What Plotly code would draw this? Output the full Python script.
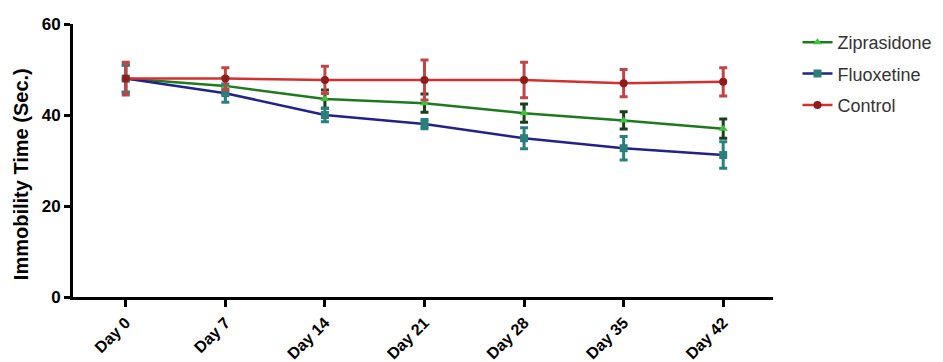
import plotly.graph_objects as go

days = ["Day 0", "Day 7", "Day 14", "Day 21", "Day 28", "Day 35", "Day 42"]

zip_mean = [48.0, 46.4, 43.5, 42.6, 40.4, 38.8, 37.0]
zip_err = [3.0, 1.8, 2.0, 2.0, 2.0, 1.9, 2.1]
flu_mean = [48.0, 44.8, 40.0, 38.0, 34.9, 32.7, 31.2]
flu_err = [3.0, 2.0, 1.5, 1.0, 2.3, 2.6, 2.9]
ctl_mean = [48.0, 48.0, 47.7, 47.7, 47.7, 47.0, 47.3]
ctl_err = [3.6, 2.4, 3.0, 4.4, 3.9, 3.0, 3.1]

x = list(range(len(days)))

fig = go.Figure()

series = [
    ("Ziprasidone", zip_mean, zip_err, "#1e7a1e", "#3cc43c", "#1d3d1d", "triangle-up", "g1"),
    ("Fluoxetine", flu_mean, flu_err, "#22228a", "#2a7f7a", "#2a8080", "square", "g2"),
    ("Control", ctl_mean, ctl_err, "#d43030", "#8e1c1c", "#c04545", "circle", "g3"),
]

for name, m, e, lc, mc, ec, sym, grp in series:
    fig.add_trace(go.Scatter(
        x=x, y=m, name=name, mode="lines+markers",
        legendgroup=grp,
        line=dict(color=lc, width=2.5),
        marker=dict(color=mc, symbol=sym, size=8),
        error_y=dict(type="data", array=e, visible=True, color=ec, thickness=3, width=4),
    ))

FONT = "Liberation Sans, Arial, sans-serif"

fig.update_layout(
    width=935, height=354,
    margin=dict(l=65, r=170, t=16, b=65, autoexpand=False),
    plot_bgcolor="white", paper_bgcolor="white",
    font=dict(family=FONT, color="#111"),
    showlegend=True,
    legend=dict(
        x=1.035, y=1.0, xanchor="left", yanchor="top",
        font=dict(size=18, color="#333"),
        traceorder="grouped", tracegroupgap=5,
        itemwidth=30,
    ),
    annotations=[dict(
        text="<b>Immobility Time (Sec.)</b>", textangle=-90,
        xref="paper", yref="paper", x=-0.0743, y=0.45,
        xanchor="center", yanchor="middle", showarrow=False,
        font=dict(size=20, color="black", family=FONT),
    )],
)

fig.update_xaxes(
    tickmode="array", tickvals=x, ticktext=days,
    range=[-0.53, 6.5], automargin=False,
    showline=True, linecolor="black", linewidth=3,
    ticks="outside", ticklen=7, tickwidth=2.5, tickcolor="black",
    tickangle=-45, showgrid=False, zeroline=False,
    tickfont=dict(size=16, family=FONT, color="black", weight="bold"),
)
fig.update_yaxes(
    range=[0, 60], tickvals=[0, 20, 40, 60], automargin=False,
    showline=True, linecolor="black", linewidth=3,
    ticks="outside", ticklen=6, tickwidth=2.5, tickcolor="black",
    showgrid=False, zeroline=False,
    tickfont=dict(size=17, family=FONT, color="black", weight="bold"),
)

fig.write_html("out.html")
